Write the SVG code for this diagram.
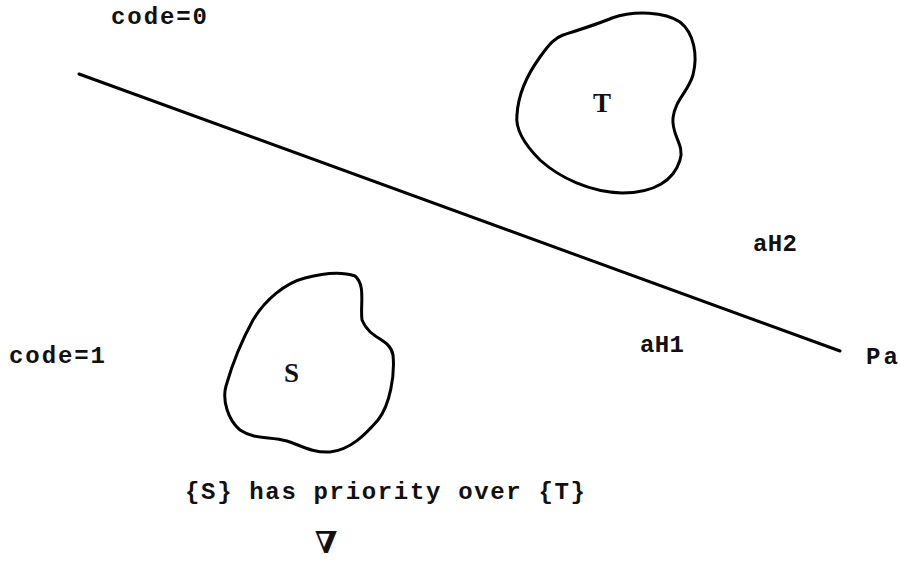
<svg xmlns="http://www.w3.org/2000/svg" width="900" height="563" viewBox="0 0 900 563">
<style>
.t{font-family:"Liberation Mono","DejaVu Sans Mono",monospace;font-size:24px;font-weight:bold;fill:#111}
.s{font-family:"Liberation Serif","DejaVu Serif",serif;font-size:27px;font-weight:bold;fill:#111}
.b{fill:none;stroke:#000;stroke-width:3;stroke-linejoin:round}
</style>
<rect width="900" height="563" fill="#fff"/>
<g id="connectors">
<path d="M79,74 L840,351" fill="none" stroke="#000" stroke-width="3" stroke-linecap="round"/>
</g>
<g id="T">
<path class="b" d="M563,35 C585,28 598,24 612,18 C635,10 665,12 680,22 C694,33 698,55 693,75 C688,92 675,100 673,118 C671,135 685,145 680,160 C674,180 655,193 622,193 C590,192 560,178 540,160 C525,145 515,130 517,115 C518,95 527,75 540,57 C550,43 555,38 563,35 Z"/>
<text class="s" x="593" y="112">T</text>
</g>
<g id="S">
<path class="b" d="M253,320 C265,300 285,283 305,278 C320,274 340,271 355,276 C366,285 360,305 362,320 C370,340 390,338 393,355 C395,375 390,405 378,420 C365,435 350,450 330,452 C312,453 300,445 287,441 C270,436 255,440 240,430 C228,420 222,400 226,386 C232,365 242,340 253,320 Z"/>
<text class="s" x="284" y="382">S</text>
</g>
<g id="labels">
<text class="t" x="111" y="24" textLength="96" lengthAdjust="spacing">code=0</text>
<text class="t" x="9" y="363" textLength="96" lengthAdjust="spacing">code=1</text>
<text class="t" x="753" y="251" textLength="44" lengthAdjust="spacing">aH2</text>
<text class="t" x="640" y="352" textLength="44" lengthAdjust="spacing">aH1</text>
<text class="t" x="866" y="364" textLength="32" lengthAdjust="spacing">Pa</text>
<text class="t" x="185" y="499" textLength="400" lengthAdjust="spacing">{S} has priority over {T}</text>
<text x="326" y="553" font-family="DejaVu Serif,serif" font-size="30" font-weight="bold" text-anchor="middle" fill="#111">∇</text>
</g>
</svg>
